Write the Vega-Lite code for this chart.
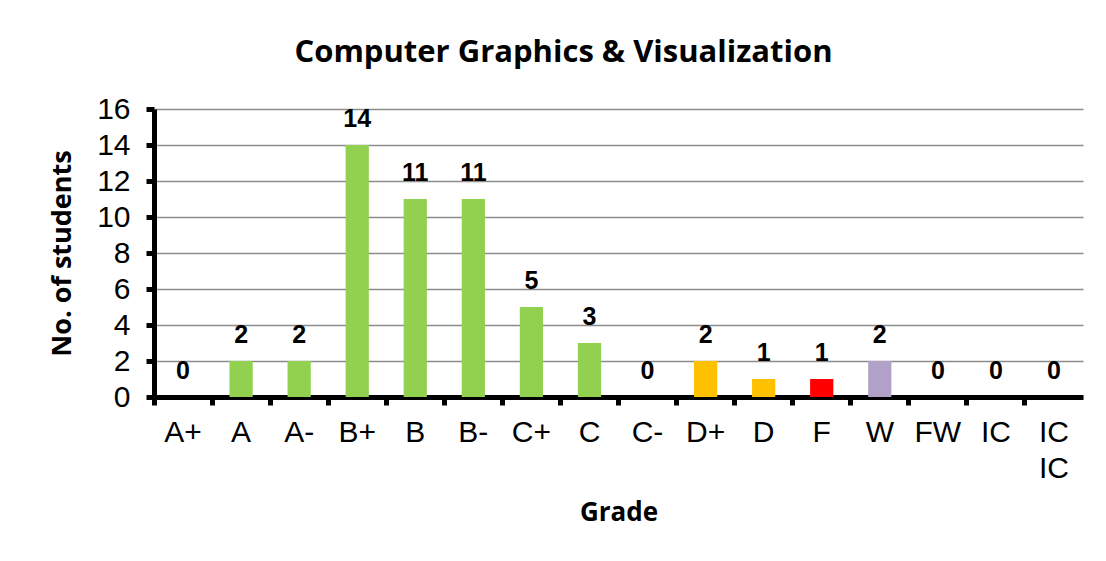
{
  "$schema": "https://vega.github.io/schema/vega-lite/v6.json",
  "autosize": {"type": "none"},
  "padding": {"left": 154, "top": 109, "right": 23, "bottom": 164},
  "width": 929,
  "height": 288,
  "background": "white",
  "title": {
    "text": "Computer Graphics & Visualization",
    "font": "Open Sans",
    "fontSize": 31,
    "fontWeight": "bold",
    "color": "black",
    "anchor": "middle",
    "dx": -55,
    "offset": 25
  },
  "data": {
    "values": [
      {"grade": "A+", "students": 0, "group": "Pass"},
      {"grade": "A", "students": 2, "group": "Pass"},
      {"grade": "A-", "students": 2, "group": "Pass"},
      {"grade": "B+", "students": 14, "group": "Pass"},
      {"grade": "B", "students": 11, "group": "Pass"},
      {"grade": "B-", "students": 11, "group": "Pass"},
      {"grade": "C+", "students": 5, "group": "Pass"},
      {"grade": "C", "students": 3, "group": "Pass"},
      {"grade": "C-", "students": 0, "group": "Pass"},
      {"grade": "D+", "students": 2, "group": "Marginal"},
      {"grade": "D", "students": 1, "group": "Marginal"},
      {"grade": "F", "students": 1, "group": "Fail"},
      {"grade": "W", "students": 2, "group": "Withdrawn"},
      {"grade": "FW", "students": 0, "group": "Other"},
      {"grade": "IC", "students": 0, "group": "Other"},
      {"grade": "IC IC", "students": 0, "group": "Other"}
    ]
  },
  "encoding": {
    "x": {
      "field": "grade",
      "type": "nominal",
      "sort": null,
      "scale": {"paddingInner": 0, "paddingOuter": 0},
      "axis": {
        "title": "Grade",
        "titleFont": "Open Sans",
        "titleFontSize": 26,
        "titleFontWeight": "bold",
        "titleColor": "black",
        "titlePadding": 16,
        "labelAngle": 0,
        "labelFont": "Liberation Sans",
        "labelFontSize": 30,
        "labelColor": "black",
        "labelPadding": 12,
        "labelLineHeight": 36,
        "labelExpr": "datum.value == 'IC IC' ? ['IC', 'IC'] : datum.value",
        "bandPosition": 0,
        "domainColor": "black",
        "domainWidth": 5,
        "tickColor": "black",
        "tickWidth": 5,
        "tickSize": 8,
        "grid": false
      }
    },
    "y": {
      "field": "students",
      "type": "quantitative",
      "scale": {"domain": [0, 16]},
      "axis": {
        "title": "No. of students",
        "titleFont": "Open Sans",
        "titleFontSize": 27,
        "titleFontWeight": "bold",
        "titleColor": "black",
        "titlePadding": 20,
        "values": [0, 2, 4, 6, 8, 10, 12, 14, 16],
        "labelFont": "Liberation Sans",
        "labelFontSize": 30,
        "labelColor": "black",
        "labelPadding": 16,
        "domainColor": "black",
        "domainWidth": 5,
        "tickColor": "black",
        "tickWidth": 5,
        "tickSize": 8,
        "gridColor": "#8c8c8c",
        "gridWidth": 1.5
      }
    }
  },
  "layer": [
    {
      "mark": {"type": "bar", "width": {"band": 0.4}},
      "encoding": {
        "color": {
          "field": "group",
          "type": "nominal",
          "scale": {
            "domain": ["Pass", "Marginal", "Fail", "Withdrawn", "Other"],
            "range": ["#92D050", "#FFC000", "#FF0000", "#B1A0C7", "#92D050"]
          },
          "legend": null
        }
      }
    },
    {
      "mark": {
        "type": "text",
        "font": "Liberation Sans",
        "fontSize": 25,
        "fontWeight": "bold",
        "color": "black",
        "baseline": "alphabetic",
        "dy": -18
      },
      "encoding": {"text": {"field": "students", "type": "quantitative"}}
    }
  ],
  "config": {"view": {"stroke": null}}
}
